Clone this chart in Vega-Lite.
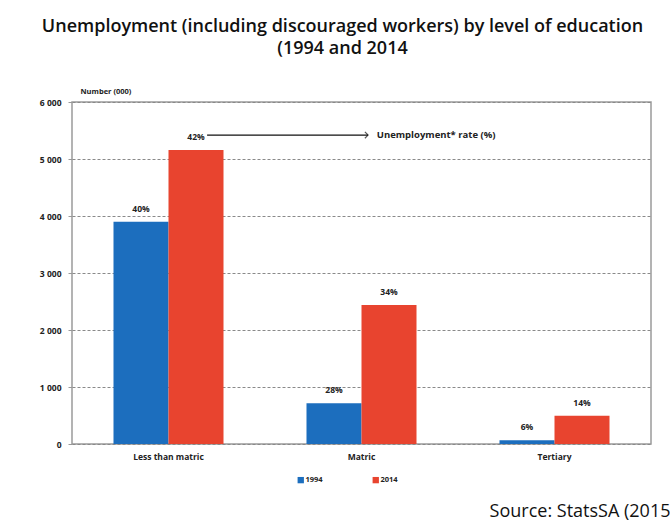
{
  "$schema": "https://vega.github.io/schema/vega-lite/v6.json",
  "width": 579,
  "height": 342,
  "autosize": {"type": "none"},
  "padding": {"left": 72, "top": 102, "right": 19, "bottom": 77},
  "background": "white",
  "config": {
    "font": "Open Sans",
    "view": {"stroke": "#9a9a9a", "strokeWidth": 1.5}
  },
  "title": {
    "text": ["Unemployment (including discouraged workers) by level of education", "(1994 and 2014"],
    "fontSize": 18,
    "fontWeight": 600,
    "font": "Open Sans",
    "color": "#111111",
    "anchor": "middle",
    "dx": -19,
    "offset": 29,
    "lineHeight": 22
  },
  "datasets": {
    "bars": [
      {"education": "Less than matric", "year": "1994", "value": 3900, "rate": "40%"},
      {"education": "Less than matric", "year": "2014", "value": 5160, "rate": "42%"},
      {"education": "Matric", "year": "1994", "value": 715, "rate": "28%"},
      {"education": "Matric", "year": "2014", "value": 2440, "rate": "34%"},
      {"education": "Tertiary", "year": "1994", "value": 65, "rate": "6%"},
      {"education": "Tertiary", "year": "2014", "value": 495, "rate": "14%"}
    ],
    "notes": [
      {"x": 0.70, "x2": 1.534, "y": 5420, "label": "Unemployment* rate (%)", "lx": 1.579}
    ]
  },
  "layer": [
    {
      "data": {"name": "bars"},
      "encoding": {
        "x": {
          "field": "education",
          "type": "nominal",
          "sort": ["Less than matric", "Matric", "Tertiary"],
          "scale": {"paddingInner": 0.43, "paddingOuter": 0.215},
          "axis": {
            "title": "Source: StatsSA (2015",
            "labelAngle": 0,
            "labelFont": "Open Sans",
            "labelFontSize": 8.5,
            "labelFontWeight": "bold",
            "labelColor": "#222222",
            "labelPadding": 8,
            "ticks": false,
            "domain": false,
            "titleX": 598,
            "titleY": 72,
            "titleAlign": "right",
            "titleAnchor": null,
            "titleBaseline": "alphabetic",
            "titleFont": "Open Sans",
            "titleFontSize": 18,
            "titleFontWeight": "normal",
            "titleColor": "#111111"
          }
        },
        "xOffset": {"field": "year", "type": "nominal", "scale": {"paddingInner": 0, "paddingOuter": 0}},
        "y": {
          "field": "value",
          "type": "quantitative",
          "scale": {"domain": [0, 6000], "nice": false},
          "axis": {
            "values": [0, 1000, 2000, 3000, 4000, 5000, 6000],
            "labelExpr": "replace(format(datum.value, ',d'), ',', ' ')",
            "title": "Number (000)",
            "titleAngle": 0,
            "titleX": 8,
            "titleY": -11,
            "titleAlign": "left",
            "titleBaseline": "middle",
            "titleFont": "Open Sans",
            "titleFontSize": 7.5,
            "titleFontWeight": "bold",
            "titleColor": "#222222",
            "labelFont": "Open Sans",
            "labelFontSize": 8.5,
            "labelFontWeight": "bold",
            "labelColor": "#222222",
            "labelPadding": 7,
            "tickSize": 4,
            "tickColor": "#9a9a9a",
            "domain": false,
            "gridDash": [3, 2],
            "gridColor": "#8a8a8a",
            "gridWidth": 1
          }
        }
      },
      "layer": [
        {
          "mark": {"type": "bar"},
          "encoding": {
            "color": {
              "field": "year",
              "type": "nominal",
              "scale": {"domain": ["1994", "2014"], "range": ["#1C6EBE", "#E8442F"]},
              "legend": {
                "orient": "none",
                "legendX": 225,
                "legendY": 374,
                "direction": "horizontal",
                "title": null,
                "symbolType": "square",
                "symbolSize": 40,
                "symbolStrokeWidth": 0,
                "labelFont": "Open Sans",
                "labelFontSize": 7.5,
                "labelFontWeight": "bold",
                "labelColor": "#222222",
                "labelOffset": 1,
                "columnPadding": 49
              }
            }
          }
        },
        {
          "mark": {"type": "text", "dy": -13, "fontWeight": "bold", "fontSize": 8.5, "font": "Open Sans", "color": "#222222", "baseline": "middle"},
          "encoding": {"text": {"field": "rate", "type": "nominal"}}
        }
      ]
    },
    {
      "data": {"name": "notes"},
      "encoding": {
        "y": {"field": "y", "type": "quantitative"}
      },
      "layer": [
        {
          "mark": {"type": "rule", "color": "#111111", "strokeWidth": 1.2},
          "encoding": {
            "x": {"field": "x", "type": "quantitative", "scale": {"domain": [0, 3], "nice": false, "zero": false}, "axis": null},
            "x2": {"field": "x2"}
          }
        },
        {
          "mark": {"type": "point", "shape": "M-1,-1L0,0L-1,1", "filled": false, "stroke": "#111111", "strokeWidth": 1.2, "size": 40},
          "encoding": {
            "x": {"field": "x2", "type": "quantitative", "scale": {"domain": [0, 3], "nice": false, "zero": false}, "axis": null}
          }
        },
        {
          "mark": {"type": "text", "align": "left", "baseline": "middle", "fontWeight": "bold", "fontSize": 9.5, "font": "Open Sans", "color": "#222222"},
          "encoding": {
            "x": {"field": "lx", "type": "quantitative", "scale": {"domain": [0, 3], "nice": false, "zero": false}, "axis": null},
            "text": {"field": "label", "type": "nominal"}
          }
        }
      ]
    }
  ],
  "resolve": {"scale": {"x": "independent"}, "axis": {"x": "independent"}}
}
